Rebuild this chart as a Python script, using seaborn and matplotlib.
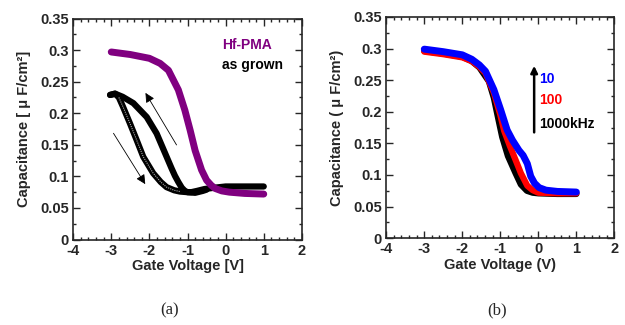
import matplotlib
matplotlib.use("Agg")
import matplotlib.pyplot as plt
from matplotlib.ticker import MultipleLocator
import seaborn as sns

# Panel (a): Hf-PMA vs as grown (hysteresis loop)
hf_v = [-3.0, -2.5, -2.0, -1.72, -1.5, -1.24, -1.07, -0.93, -0.8, -0.63, -0.5, -0.38, -0.28, -0.1, 0.1, 0.5, 1.0]
hf_c = [0.297, 0.293, 0.287, 0.279, 0.268, 0.237, 0.205, 0.173, 0.141, 0.110, 0.094, 0.086, 0.081, 0.077, 0.075, 0.073, 0.072]

# forward sweep (-3 -> +1), lower/left branch
fwd_v = [-3.03, -2.9, -2.8, -2.69, -2.51, -2.33, -2.16, -1.9, -1.7, -1.55, -1.35, -1.2, -1.0, -0.8, -0.6, -0.5]
fwd_c = [0.229, 0.231, 0.225, 0.210, 0.184, 0.157, 0.131, 0.105, 0.091, 0.083, 0.078, 0.076, 0.075, 0.074, 0.077, 0.079]

# reverse sweep (+1 -> -3), upper/right branch
rev_v = [1.0, 0.5, 0.0, -0.3, -0.55, -0.75, -0.9, -1.0, -1.07, -1.15, -1.24, -1.33, -1.42, -1.59, -1.81, -2.07, -2.42, -2.7, -2.9, -3.03]
rev_c = [0.084, 0.084, 0.084, 0.082, 0.080, 0.077, 0.075, 0.075, 0.077, 0.082, 0.091, 0.101, 0.113, 0.137, 0.168, 0.194, 0.216, 0.226, 0.231, 0.229]

# Panel (b): frequency dispersion
f10_v = [-3.0, -2.5, -2.0, -1.75, -1.55, -1.39, -1.17, -0.99, -0.82, -0.68, -0.51, -0.4, -0.29, -0.2, -0.1, 0.02, 0.2, 0.5, 1.0]
f10_c = [0.299, 0.295, 0.290, 0.283, 0.274, 0.264, 0.235, 0.203, 0.171, 0.155, 0.139, 0.131, 0.118, 0.098, 0.087, 0.080, 0.076, 0.074, 0.073]
f100_v = [-3.0, -2.5, -2.0, -1.75, -1.55, -1.39, -1.17, -1.0, -0.9, -0.75, -0.6, -0.46, -0.29, -0.15, 0.0, 0.5, 1.0]
f100_c = [0.295, 0.291, 0.286, 0.280, 0.271, 0.261, 0.230, 0.195, 0.170, 0.146, 0.124, 0.103, 0.083, 0.076, 0.072, 0.071, 0.071]
f1000_v = [-3.0, -2.5, -2.0, -1.75, -1.55, -1.3, -1.17, -1.05, -0.95, -0.8, -0.6, -0.46, -0.3, -0.15, 0.0, 0.5, 1.0]
f1000_c = [0.296, 0.292, 0.287, 0.280, 0.270, 0.248, 0.222, 0.188, 0.160, 0.130, 0.103, 0.085, 0.075, 0.072, 0.071, 0.070, 0.070]

sns.set_style("ticks")
plt.rcParams["font.family"] = ["Liberation Sans", "DejaVu Sans"]
plt.rcParams["font.weight"] = "bold"
plt.rcParams["axes.labelweight"] = "bold"
plt.rcParams["axes.unicode_minus"] = False

fig = plt.figure(figsize=(6.25, 3.25), dpi=100)
ax1 = fig.add_axes([0.117, 0.263, 0.366, 0.680])
ax2 = fig.add_axes([0.618, 0.267, 0.365, 0.681])

purple = "#800080"

sns.lineplot(x=rev_v, y=rev_c, sort=False, color="black", linewidth=4.5, ax=ax1)
sns.lineplot(x=fwd_v, y=fwd_c, sort=False, color="black", linewidth=4.5, ax=ax1)
sns.lineplot(x=fwd_v[2:-4], y=fwd_c[2:-4], sort=False, color="#aaaaaa", linewidth=0.8,
             linestyle=(0, (1, 1)), ax=ax1)
sns.lineplot(x=hf_v, y=hf_c, sort=False, color=purple, linewidth=5, ax=ax1)

ax1.annotate("", xy=(-2.14, 0.236), xytext=(-1.25, 0.146),
             arrowprops=dict(arrowstyle="-|>", color="black", lw=0.6, mutation_scale=14))
ax1.annotate("", xy=(-2.07, 0.084), xytext=(-2.98, 0.172),
             arrowprops=dict(arrowstyle="-|>", color="black", lw=0.6, mutation_scale=14))
ax1.text(-0.1, 0.308, "Hf-PMA", color=purple, fontsize=10, fontweight="bold", va="center")
ax1.text(-0.1, 0.276, "as grown", color="black", fontsize=10, fontweight="bold", va="center")

sns.lineplot(x=f1000_v, y=f1000_c, sort=False, color="black", linewidth=4.5, ax=ax2)
sns.lineplot(x=f100_v, y=f100_c, sort=False, color="#ff0000", linewidth=4.5, ax=ax2)
sns.lineplot(x=f10_v, y=f10_c, sort=False, color="#0000ff", linewidth=5, ax=ax2)

ax2.annotate("", xy=(-0.11, 0.277), xytext=(-0.11, 0.163),
             arrowprops=dict(arrowstyle="-|>", color="black", lw=1.8, mutation_scale=10))
ax2.text(0.03, 0.252, "10", color="#0000ff", fontsize=10, fontweight="bold", va="center")
ax2.text(0.03, 0.218, "100", color="#ff0000", fontsize=10, fontweight="bold", va="center")
ax2.text(0.03, 0.180, "1000kHz", color="black", fontsize=10, fontweight="bold", va="center")

for ax, xl, yl in [(ax1, "Gate Voltage [V]", "Capacitance [ \u03bc F/cm\u00b2]"),
                   (ax2, "Gate Voltage (V)", "Capacitance ( \u03bc F/cm\u00b2)")]:
    ax.set_xlim(-4, 2)
    ax.set_ylim(0, 0.35)
    ax.xaxis.set_major_locator(MultipleLocator(1))
    ax.xaxis.set_minor_locator(MultipleLocator(0.2))
    ax.yaxis.set_minor_locator(MultipleLocator(0.025))
    ax.set_yticks([0, 0.05, 0.1, 0.15, 0.2, 0.25, 0.3, 0.35])
    ax.set_yticklabels(["0", "0.05", "0.1", "0.15", "0.2", "0.25", "0.3", "0.35"])
    ax.tick_params(which="both", direction="in", top=True, right=True, width=1, labelsize=10.5)
    ax.tick_params(axis="x", pad=3)
    ax.tick_params(axis="y", pad=3)
    ax.tick_params(which="major", length=5)
    ax.tick_params(which="minor", length=2.5)
    for lab in ax.get_xticklabels() + ax.get_yticklabels():
        lab.set_fontweight("bold")
    for s in ax.spines.values():
        s.set_linewidth(1.2)
        s.set_visible(True)
    ax.set_xlabel(xl, fontsize=10.5, fontweight="bold", labelpad=1)
    ax.set_ylabel(yl, fontsize=10.5, fontweight="bold", labelpad=6.5)

fig.text(0.272, 0.046, "(a)", fontsize=12, fontweight="normal", family="Liberation Serif", ha="center", va="center")
fig.text(0.795, 0.046, "(b)", fontsize=12, fontweight="normal", family="Liberation Serif", ha="center", va="center")

fig.savefig("out.png", dpi=100, facecolor="white")
